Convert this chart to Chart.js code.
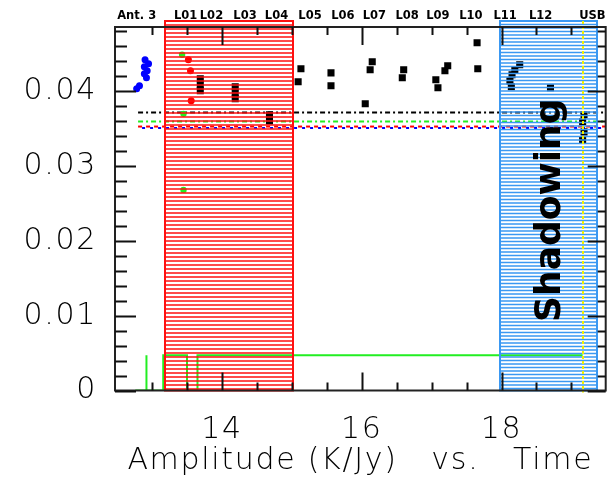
<!DOCTYPE html>
<html>
<head>
<meta charset="utf-8">
<script src="https://cdn.jsdelivr.net/npm/chart.js@4.4.1/dist/chart.umd.min.js"></script>
<style>
  html, body { margin: 0; padding: 0; background: #fff; }
  #wrap { width: 614px; height: 484px; }
</style>
</head>
<body>
<div id="wrap"><canvas id="amp" width="614" height="484"></canvas></div>
<script>
// amplitude samples, one pair of arrays per polarisation / IF
const blueX = [12.90, 12.95, 12.89, 12.93, 12.89, 12.92, 12.82, 12.78];
const blueY = [0.04421, 0.04368, 0.04328, 0.04274, 0.04234, 0.04181, 0.04074, 0.04033];

const redX = [13.52, 13.55, 13.56];
const redY = [0.04421, 0.04274, 0.03873];

const greenX = [13.43, 13.45, 13.45];
const greenY = [0.04488, 0.03699, 0.02682];

const blackX = [13.69, 13.69, 13.69, 14.19, 14.19, 14.19, 14.68, 14.68,
  15.13, 15.09, 15.56, 15.56, 16.15, 16.12, 16.05, 16.60, 16.58,
  17.06, 17.09, 17.23, 17.19, 17.65, 17.66,
  18.26, 18.19, 18.15, 18.12, 18.14, 18.70,
  19.18, 19.16, 19.18, 19.16];
const blackY = [0.04167, 0.04087, 0.04007, 0.0406, 0.0398, 0.0390, 0.03686, 0.03605,
  0.04301, 0.04127, 0.04247, 0.04074, 0.04395, 0.04288, 0.03833, 0.04288, 0.04181,
  0.04154, 0.04047, 0.04341, 0.04274, 0.04649, 0.04301,
  0.04355, 0.04288, 0.04221, 0.0414, 0.0406, 0.04047,
  0.03686, 0.03592, 0.03458, 0.03351];

// mean levels (dotted) per series
const levelStart = 12.8;
const levelBlack = 0.03716;
const levelGreen = 0.03596;
const levelRed = 0.03529;
const levelBlue = 0.03508;

// flag trace along the bottom
const flagX = [12.76, 12.92, 12.92, 12.92, 13.16, 13.16, 13.50, 13.50, 13.65, 13.65, 19.16];
const flagY = [0, 0, 0.0047, 0, 0, 0.0047, 0.0047, 0, 0, 0.0047, 0.0047];

// hatched spans (time ranges) and the USB marker
const hatchSpans = [[13.18, 15.01], [17.98, 19.36]];
const hatchTop = 0.0494;
const usbMarker = 19.16;

// axis ticks
const xTicks = [14, 16, 18];
const yTicks = [0, 0.01, 0.02, 0.03, 0.04];
const xMin = 12.47, xMax = 19.49, yMin = 0, yMax = 0.0486;

// antenna / baseline names along the top
const topLabels = ['Ant. 3', 'L01', 'L02', 'L03', 'L04', 'L05', 'L06', 'L07', 'L08', 'L09', 'L10', 'L11', 'L12', 'USB'];
const topLabelPos = [12.78, 13.48, 13.85, 14.33, 14.78, 15.26, 15.73, 16.18, 16.65, 17.09, 17.56, 18.05, 18.56, 19.30];

const shadowText = 'Shadowing';
const shadowAt = { x: 18.833, y: 0.0241 };

const toPoints = (xs, ys) => xs.map((x, i) => ({ x, y: ys[i] }));
const level = (v) => [{ x: levelStart, y: v }, { x: xMax, y: v }];

const hatchColors = ['#ff1010', '#3a98f2'];
const hatchStep = [4, 3.5];

const decorations = {
  id: 'decorations',
  beforeDraw(chart) {
    chart.ctx.letterSpacing = '1.7px';
  },
  afterDatasetsDraw(chart) {
    const { ctx, chartArea: a, scales: { x, y } } = chart;
    ctx.save();
    ctx.letterSpacing = '0px';

    // hatched spans, drawn over the samples
    const top = Math.round(y.getPixelForValue(hatchTop));
    hatchSpans.forEach(([from, to], i) => {
      const l = Math.round(x.getPixelForValue(from));
      const r = Math.round(x.getPixelForValue(to));
      ctx.strokeStyle = hatchColors[i];
      ctx.lineWidth = 1.5;
      ctx.beginPath();
      for (let yy = top + hatchStep[i]; yy < a.bottom; yy += hatchStep[i]) {
        ctx.moveTo(l, yy);
        ctx.lineTo(r, yy);
      }
      ctx.stroke();
      ctx.lineWidth = 2;
      ctx.strokeRect(l, top, r - l, a.bottom - top);
    });

    // USB marker
    const ux = Math.round(x.getPixelForValue(usbMarker));
    ctx.strokeStyle = '#f0f000';
    ctx.lineWidth = 2;
    ctx.setLineDash([3, 2]);
    ctx.beginPath();
    ctx.moveTo(ux, top);
    ctx.lineTo(ux, a.bottom + 2);
    ctx.stroke();
    ctx.setLineDash([]);

    // frame
    ctx.strokeStyle = '#222';
    ctx.lineWidth = 2;
    ctx.strokeRect(a.left, a.top, a.right - a.left, a.bottom - a.top);

    // inward ticks
    ctx.strokeStyle = '#111';
    ctx.beginPath();
    for (let k = 0; k <= 24; k++) {
      const v = k * 0.002;
      const py = Math.round(y.getPixelForValue(v)) + 0.5;
      const major = k % 5 === 0;
      ctx.moveTo(a.left, py); ctx.lineTo(a.left + (major ? 21 : 12), py);
      ctx.moveTo(a.right, py); ctx.lineTo(a.right - (major ? 18 : 8), py);
    }
    for (let k = 0; k <= 12; k++) {
      const v = 13 + k * 0.5;
      const px = Math.round(x.getPixelForValue(v)) + 0.5;
      const major = xTicks.includes(v);
      ctx.moveTo(px, a.bottom); ctx.lineTo(px, a.bottom - (major ? 18 : 8));
      ctx.moveTo(px, a.top); ctx.lineTo(px, a.top + (major ? 18 : 8));
    }
    ctx.stroke();

    // names along the top edge
    ctx.fillStyle = '#000';
    ctx.font = 'bold 11.5px "DejaVu Sans"';
    ctx.textAlign = 'center';
    ctx.textBaseline = 'middle';
    topLabels.forEach((t, i) => ctx.fillText(t, x.getPixelForValue(topLabelPos[i]), a.top - 11));

    // rotated label in the second span
    ctx.translate(x.getPixelForValue(shadowAt.x), y.getPixelForValue(shadowAt.y));
    ctx.rotate(-Math.PI / 2);
    ctx.font = 'bold 36px "DejaVu Sans"';
    ctx.textBaseline = 'alphabetic';
    ctx.fillText(shadowText, 0, 0);
    ctx.restore();
  },
  afterDraw(chart) {
    chart.ctx.letterSpacing = '0px';
  }
};

const axisFont = { family: 'DejaVu Sans', size: 30, weight: 200 };

new Chart(document.getElementById('amp'), {
  type: 'scatter',
  data: {
    datasets: [
      { data: toPoints(blackX, blackY), pointStyle: 'rect', pointRadius: 5, backgroundColor: '#000', borderWidth: 0 },
      { data: toPoints(redX, redY), pointStyle: 'circle', pointRadius: 3.5, backgroundColor: '#ff0000', borderWidth: 0 },
      { data: toPoints(greenX, greenY), pointStyle: 'circle', pointRadius: 3.2, backgroundColor: '#22ee22', borderWidth: 0 },
      { data: toPoints(blueX, blueY), pointStyle: 'circle', pointRadius: 3.5, backgroundColor: '#0000ff', borderWidth: 0 },
      { data: level(levelBlack), showLine: true, borderColor: '#000', borderWidth: 2, borderDash: [5, 3, 2, 3], pointRadius: 0 },
      { data: level(levelGreen), showLine: true, borderColor: '#22ee22', borderWidth: 2, borderDash: [5, 3, 2, 3], pointRadius: 0 },
      { data: level(levelRed), showLine: true, borderColor: '#ff0000', borderWidth: 2, borderDash: [4, 4], pointRadius: 0 },
      { data: level(levelBlue), showLine: true, borderColor: '#0000ff', borderWidth: 2, borderDash: [3, 5], borderDashOffset: 4, pointRadius: 0 },
      { data: toPoints(flagX, flagY), showLine: true, borderColor: '#22ee22', borderWidth: 2, pointRadius: 0 }
    ]
  },
  options: {
    responsive: false,
    animation: false,
    layout: { padding: { top: 27, right: 8.3, left: 0, bottom: 0 } },
    plugins: { legend: { display: false }, tooltip: { enabled: false } },
    scales: {
      x: {
        type: 'linear',
        min: xMin,
        max: xMax,
        afterBuildTicks: (s) => { s.ticks = xTicks.map((v) => ({ value: v })); },
        afterFit: (s) => { s.height = 93.5; s.paddingLeft = 0; s.paddingRight = 0; },
        grid: { display: false, drawTicks: false },
        border: { display: false },
        ticks: { color: '#000', font: axisFont, padding: 22, maxRotation: 0, autoSkip: false },
        title: {
          display: true,
          text: 'Amplitude (K/Jy)   vs.   Time',
          color: '#000',
          font: axisFont,
          padding: { top: 0, bottom: 5 }
        }
      },
      y: {
        type: 'linear',
        min: yMin,
        max: yMax,
        afterBuildTicks: (s) => { s.ticks = yTicks.map((v) => ({ value: v })); },
        afterFit: (s) => { s.width = 115; s.paddingTop = 0; s.paddingBottom = 0; },
        grid: { display: false, drawTicks: false },
        border: { display: false },
        ticks: { color: '#000', font: axisFont, padding: 18, callback: (v) => String(v) }
      }
    }
  },
  plugins: [decorations]
});
</script>
</body>
</html>
